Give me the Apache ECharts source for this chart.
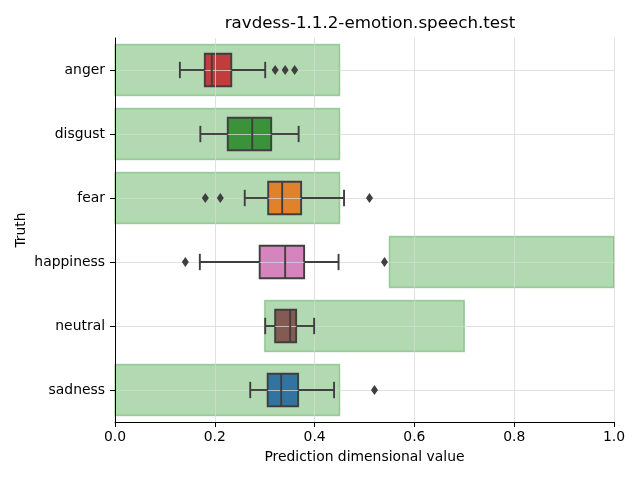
<!DOCTYPE html>
<html>
<head>
<meta charset="utf-8">
<script src="https://cdn.jsdelivr.net/npm/echarts@6/dist/echarts.min.js"></script>
<style>html,body{margin:0;padding:0;background:#fff;}#c{width:640px;height:480px;}</style>
</head>
<body>
<div id="c"></div>
<script>
const categories = ['anger', 'disgust', 'fear', 'happiness', 'neutral', 'sadness'];
const boxMin    = [0.130, 0.171, 0.260, 0.170, 0.301, 0.271];
const boxQ1     = [0.180, 0.226, 0.307, 0.290, 0.321, 0.306];
const boxMedian = [0.194, 0.275, 0.335, 0.341, 0.351, 0.333];
const boxQ3     = [0.233, 0.313, 0.373, 0.379, 0.363, 0.367];
const boxMax    = [0.301, 0.368, 0.459, 0.448, 0.399, 0.439];
const outlierCategory = ['anger', 'anger', 'anger', 'fear', 'fear', 'fear', 'happiness', 'happiness', 'sadness'];
const outlierValue    = [0.321, 0.341, 0.360, 0.181, 0.211, 0.510, 0.141, 0.540, 0.520];
const rangeStart = [0.0, 0.0, 0.0, 0.55, 0.3, 0.0];
const rangeEnd   = [0.45, 0.45, 0.45, 1.0, 0.7, 0.45];
const xTicks = ['0.0', '0.2', '0.4', '0.6', '0.8', '1.0'];

const boxColors = ['#c03d3e', '#3a923a', '#e1812c', '#d684bd', '#845b53', '#3274a1'];
const edge = '#3f3f3f';
const gridColor = 'rgba(215,215,215,0.75)';
const FONT = 'DejaVu Sans';

const rangeData = categories.map((c, i) => [i, rangeStart[i], rangeEnd[i]]);
const boxData = categories.map((c, i) => [i, boxMin[i], boxQ1[i], boxMedian[i], boxQ3[i], boxMax[i]]);
const outlierData = outlierValue.map((v, i) => [v, categories.indexOf(outlierCategory[i])]);

function boxGeom(api) {
  const i = api.value(0);
  return {
    i: i,
    lo: api.coord([api.value(1), i]),
    q1: api.coord([api.value(2), i]),
    md: api.coord([api.value(3), i]),
    q3: api.coord([api.value(4), i]),
    hi: api.coord([api.value(5), i]),
    bh: api.size([0, 1])[1] * 0.51
  };
}

const chart = echarts.init(document.getElementById('c'), null, {renderer: 'canvas'});
chart.setOption({
  animation: false,
  backgroundColor: '#fff',
  title: {
    text: 'ravdess-1.1.2-emotion.speech.test',
    left: 365, top: 10, textAlign: 'center',
    textStyle: {fontFamily: FONT, fontSize: 16.7, fontWeight: 'normal', color: '#000'}
  },
  grid: {left: 115, right: 26, top: 38, bottom: 58},
  xAxis: {
    type: 'value', min: 0, max: 1, interval: 0.2, z: 3,
    name: 'Prediction dimensional value', nameLocation: 'middle', nameGap: 28,
    nameMoveOverlap: false,
    nameTextStyle: {fontFamily: FONT, fontSize: 13.9, color: '#000'},
    axisLine: {show: true, lineStyle: {color: '#000', width: 1}},
    axisTick: {show: true, length: 5, lineStyle: {color: '#000', width: 1}},
    axisLabel: {fontFamily: FONT, fontSize: 13.9, color: '#000', margin: 8,
      formatter: (v) => xTicks[Math.round(v / 0.2)]},
    splitLine: {show: true, lineStyle: {color: gridColor, width: 1}}
  },
  yAxis: {
    type: 'category', data: categories, inverse: true, z: 6,
    name: 'Truth', nameLocation: 'middle', nameGap: 87, nameRotate: 90,
    nameMoveOverlap: false,
    nameTextStyle: {fontFamily: FONT, fontSize: 13.9, color: '#000'},
    axisLine: {show: true, lineStyle: {color: '#000', width: 1}},
    axisTick: {show: true, length: 5, alignWithLabel: true, lineStyle: {color: '#000', width: 1}},
    axisLabel: {fontFamily: FONT, fontSize: 13.9, color: '#000', margin: 10},
    splitLine: {show: false},
    splitArea: {show: false}
  },
  series: [
    {
      type: 'custom', z: 1,
      encode: {x: [1, 2], y: 0},
      data: rangeData,
      renderItem: function (params, api) {
        const i = api.value(0);
        const a = api.coord([api.value(1), i]);
        const b = api.coord([api.value(2), i]);
        const h = api.size([0, 1])[1] * 0.8;
        return {
          type: 'rect',
          shape: {x: a[0], y: a[1] - h / 2, width: b[0] - a[0], height: h},
          style: {fill: 'rgba(0,128,0,0.3)', stroke: 'rgba(0,128,0,0.3)', lineWidth: 1.5}
        };
      }
    },
    {
      type: 'custom', z: 2,
      encode: {x: [1, 2, 3, 4, 5], y: 0},
      data: boxData,
      renderItem: function (params, api) {
        const g = boxGeom(api);
        const y = g.lo[1];
        return {
          type: 'rect',
          shape: {x: g.q1[0], y: y - g.bh / 2, width: g.q3[0] - g.q1[0], height: g.bh},
          style: {fill: boxColors[g.i], stroke: edge, lineWidth: 1.9}
        };
      },
      markLine: {
        silent: true, symbol: 'none', z: 3,
        label: {show: false},
        lineStyle: {color: gridColor, width: 1, type: 'solid'},
        data: categories.map((c) => ({yAxis: c}))
      }
    },
    {
      type: 'custom', z: 4,
      encode: {x: [1, 2, 3, 4, 5], y: 0},
      data: boxData,
      renderItem: function (params, api) {
        const g = boxGeom(api);
        const y = g.lo[1];
        const ch = g.bh / 4;
        const ls = {stroke: edge, lineWidth: 1.9, fill: null};
        return {
          type: 'group',
          children: [
            {type: 'line', shape: {x1: g.lo[0], y1: y, x2: g.q1[0], y2: y}, style: ls},
            {type: 'line', shape: {x1: g.q3[0], y1: y, x2: g.hi[0], y2: y}, style: ls},
            {type: 'line', shape: {x1: g.lo[0], y1: y - ch, x2: g.lo[0], y2: y + ch}, style: ls},
            {type: 'line', shape: {x1: g.hi[0], y1: y - ch, x2: g.hi[0], y2: y + ch}, style: ls},
            {type: 'line', shape: {x1: g.md[0], y1: y - g.bh / 2, x2: g.md[0], y2: y + g.bh / 2}, style: ls}
          ]
        };
      }
    },
    {
      type: 'scatter', z: 5,
      symbol: 'diamond', symbolSize: [7, 10],
      itemStyle: {color: edge, opacity: 1},
      data: outlierData
    }
  ]
});
</script>
</body>
</html>
